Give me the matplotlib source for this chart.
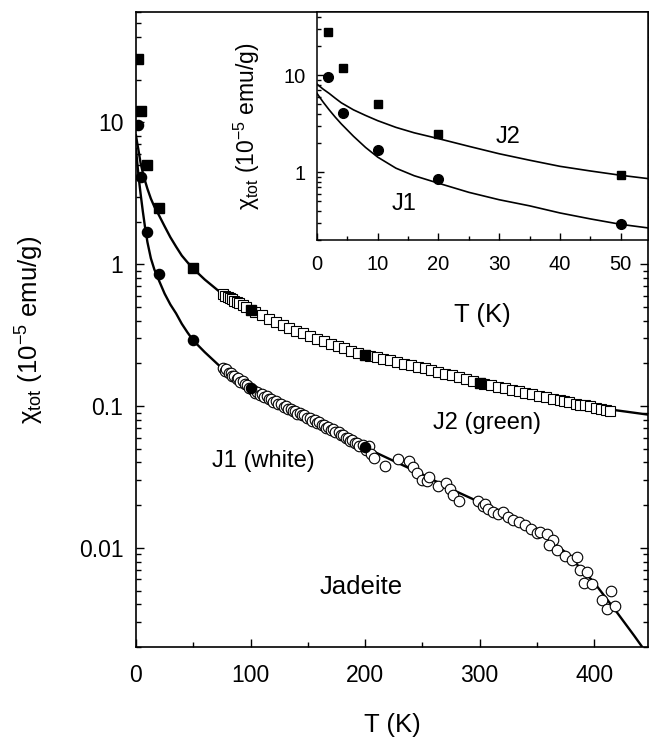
import matplotlib
matplotlib.use("Agg")
import matplotlib.pyplot as plt
from matplotlib.ticker import LogLocator, MultipleLocator, NullFormatter

plt.rcParams['font.family'] = ['Liberation Sans', 'DejaVu Sans']
plt.rcParams['mathtext.fontset'] = 'custom'
plt.rcParams['mathtext.rm'] = 'Liberation Sans'
plt.rcParams['mathtext.it'] = 'Liberation Sans:italic'

# ---------------- data ----------------
# low-temperature solid points (both panels)
T_low = [1.8, 4.2, 10, 20, 50]
J2_low = [28, 12, 5.0, 2.5, 0.94]
J1_low = [9.6, 4.1, 1.7, 0.85, 0.29]

# extra solid points in main panel
T_J2_solid_hi = [100, 200, 300]
J2_solid_hi = [0.478, 0.230, 0.146]
T_J1_solid_hi = [100, 200]
J1_solid_hi = [0.134, 0.0516]

# open squares: J2 (green)
T_J2_open = [76, 78, 80, 82, 84, 86, 88, 90, 93, 96, 104, 110, 116, 122, 128, 134, 140, 146,
             152, 158, 164, 170, 176, 182, 188, 194, 204, 210, 216, 222, 228, 234, 240, 246,
             252, 258, 264, 270, 276, 282, 288, 294, 304, 310, 316, 322, 328, 334, 340, 346,
             352, 358, 364, 370, 374, 378, 384, 388, 392, 396, 402, 406, 410, 414]
J2_open = [0.614, 0.601, 0.589, 0.577, 0.565, 0.553, 0.542, 0.531, 0.515, 0.499, 0.461, 0.436,
           0.413, 0.391, 0.372, 0.356, 0.340, 0.325, 0.312, 0.299, 0.287, 0.275, 0.264, 0.255,
           0.246, 0.238, 0.226, 0.221, 0.215, 0.210, 0.204, 0.199, 0.194, 0.189, 0.184, 0.179,
           0.174, 0.169, 0.165, 0.160, 0.155, 0.150, 0.144, 0.140, 0.137, 0.134, 0.130, 0.127,
           0.124, 0.121, 0.118, 0.115, 0.113, 0.110, 0.108, 0.107, 0.104, 0.102, 0.101, 0.0995,
           0.097, 0.096, 0.094, 0.093]

# open circles: J1 (white)
T_J1_open = [76, 78, 79, 81, 83, 84, 86, 88, 89, 91, 93, 95, 97, 99,
             102, 104, 106, 108, 110, 112, 114, 116, 118, 120, 122, 124,
             127, 129, 131, 133, 135, 137, 139, 141, 143, 145, 147, 149,
             152, 154, 156, 158, 160, 162, 164, 166, 168, 170, 172, 174,
             177, 179, 181, 183, 185, 187, 189, 191, 193, 195, 198, 201, 203,
             205, 208, 217.5, 229, 238.7, 242, 245, 249.5, 253.8, 256, 264, 270.7, 274,
             277, 282, 299, 303, 305, 307.7, 312, 316, 320.8, 325, 329.5, 334.8, 339.7,
             344.7, 350, 352.8, 358.6, 364.5, 361, 367.4, 374.7, 380.5, 384.9, 387.8,
             393.6, 391.3, 398, 406.7, 411, 414.6, 418]
J1_open = [0.186, 0.178, 0.182, 0.171, 0.170, 0.163, 0.164, 0.155, 0.158, 0.148, 0.150, 0.142, 0.141, 0.133,
           0.130, 0.124, 0.126, 0.120, 0.121, 0.115, 0.117, 0.112, 0.113, 0.107, 0.108, 0.103,
           0.104, 0.098, 0.100, 0.095, 0.096, 0.092, 0.093, 0.088, 0.090, 0.086, 0.087, 0.083,
           0.083, 0.079, 0.080, 0.076, 0.077, 0.073, 0.074, 0.070, 0.071, 0.068, 0.069, 0.066,
           0.066, 0.062, 0.063, 0.060, 0.060, 0.057, 0.058, 0.055, 0.055, 0.052, 0.053, 0.049, 0.052,
           0.046, 0.043, 0.038, 0.042, 0.041, 0.037, 0.0337, 0.030, 0.0294, 0.0316, 0.0271, 0.0286, 0.0259,
           0.0237, 0.0215, 0.0215, 0.0196, 0.0205, 0.0187, 0.018, 0.0174, 0.0178, 0.0166, 0.0158, 0.0151, 0.0145,
           0.0136, 0.0128, 0.0130, 0.0126, 0.0113, 0.0105, 0.0097, 0.0088, 0.0082, 0.0086, 0.0070,
           0.0068, 0.0057, 0.0056, 0.0043, 0.0037, 0.0050, 0.0039]

# fit curves
T_fit_J2 = [0, 1, 2, 3, 4, 6, 8, 10, 13, 16, 20, 25, 30, 35, 40, 45, 50, 60, 75, 100,
            125, 150, 175, 200, 250, 300, 350, 400, 447]
J2_fit = [8.1, 7.2, 6.5, 5.8, 5.2, 4.4, 3.85, 3.4, 2.9, 2.55, 2.22, 1.85, 1.55, 1.33, 1.15,
          1.03, 0.93, 0.78, 0.62, 0.478, 0.38, 0.315, 0.265, 0.230, 0.186, 0.146, 0.119,
          0.098, 0.087]
T_fit_J1 = [0, 1, 2, 3, 4, 6, 8, 10, 13, 16, 20, 25, 30, 35, 40, 45, 50, 60, 75, 100,
            125, 150, 175, 200, 225, 250, 275, 300, 325, 350, 375, 400, 420, 435, 442, 446]
J1_fit = [6.5, 5.3, 4.4, 3.7, 3.15, 2.35, 1.8, 1.43, 1.1, 0.92, 0.77, 0.62, 0.52, 0.45, 0.38,
          0.33, 0.29, 0.24, 0.185, 0.132, 0.104, 0.084, 0.066, 0.051, 0.041, 0.033, 0.026,
          0.021, 0.017, 0.0134, 0.0093, 0.0057, 0.0035, 0.0024, 0.0020, 0.0016]

main_xticks = [0, 100, 200, 300, 400]
main_yticks = [0.01, 0.1, 1, 10]
main_yticklabels = ['0.01', '0.1', '1', '10']
inset_xticks = [0, 10, 20, 30, 40, 50]
inset_yticks = [1, 10]
inset_yticklabels = ['1', '10']

ylabel_text = r'χ$_{\rm tot}$ (10$^{-5}$ emu/g)'

# ---------------- figure ----------------
fig = plt.figure(figsize=(6.5, 7.37), dpi=100)
ax = fig.add_axes([0.2092, 0.1221, 0.7877, 0.8616])

ax.plot(T_fit_J2, J2_fit, color='black', lw=1.7, zorder=2)
ax.plot(T_fit_J1, J1_fit, color='black', lw=1.7, zorder=2)
ax.plot(T_J2_open, J2_open, ls='none', marker='s', ms=6.6, mfc='white', mec='black', mew=0.8, zorder=3)
ax.plot(T_J1_open, J1_open, ls='none', marker='o', ms=7.6, mfc='white', mec='black', mew=0.8, zorder=3)
ax.plot(T_low + T_J2_solid_hi, J2_low + J2_solid_hi, ls='none', marker='s', ms=6.8,
        mfc='black', mec='black', zorder=4)
ax.plot(T_low + T_J1_solid_hi, J1_low + J1_solid_hi, ls='none', marker='o', ms=7.3,
        mfc='black', mec='black', zorder=4)

ax.set_yscale('log')
ax.set_xlim(0, 447)
ax.set_ylim(0.002, 60)
ax.set_xticks(main_xticks)
ax.set_xticklabels([str(t) for t in main_xticks])
ax.xaxis.set_minor_locator(MultipleLocator(50))
ax.set_yticks(main_yticks)
ax.set_yticklabels(main_yticklabels)
ax.yaxis.set_minor_locator(LogLocator(base=10, subs=range(2, 10), numticks=20))
ax.yaxis.set_minor_formatter(NullFormatter())
ax.tick_params(which='both', direction='in', top=False, right=True, width=1.0)
ax.tick_params(which='major', length=6, labelsize=16.5)
ax.tick_params(axis='x', which='major', pad=12)
ax.tick_params(axis='y', which='major', pad=9)
ax.tick_params(which='minor', length=3.5)
for s in ax.spines.values():
    s.set_linewidth(1.2)

ax.set_xlabel('T (K)', fontsize=18.5)
ax.xaxis.set_label_coords(0.5, -0.104)
ax.xaxis.label.set_va('top')
ax.set_ylabel(ylabel_text, fontsize=18.5)
ax.yaxis.set_label_coords(-0.176, 0.5)

ax.text(0.6865, 0.3528, 'J2 (green)', transform=ax.transAxes, ha='center', va='center', fontsize=17)
ax.text(0.248, 0.293, 'J1 (white)', transform=ax.transAxes, ha='center', va='center', fontsize=17)
ax.text(0.4404, 0.0945, 'Jadeite', transform=ax.transAxes, ha='center', va='center', fontsize=18.5)

# ---------------- inset ----------------
ins = fig.add_axes([0.4877, 0.6744, 0.5092, 0.3094])
ins.set_facecolor('white')
ins.plot(T_fit_J2, J2_fit, color='black', lw=1.2)
ins.plot(T_fit_J1, J1_fit, color='black', lw=1.2)
ins.plot(T_low, J2_low, ls='none', marker='s', ms=6.0, mfc='black', mec='black')
ins.plot(T_low, J1_low, ls='none', marker='o', ms=7.0, mfc='black', mec='black')
ins.set_yscale('log')
ins.set_xlim(0, 54.5)
ins.set_ylim(0.2, 45)
ins.set_xticks(inset_xticks)
ins.set_xticklabels([str(t) for t in inset_xticks])
ins.xaxis.set_minor_locator(MultipleLocator(5))
ins.set_yticks(inset_yticks)
ins.set_yticklabels(inset_yticklabels)
ins.yaxis.set_minor_locator(LogLocator(base=10, subs=range(2, 10), numticks=20))
ins.yaxis.set_minor_formatter(NullFormatter())
ins.tick_params(which='both', direction='in', top=False, right=False, width=1.0)
ins.tick_params(which='major', length=5, labelsize=14.5)
ins.tick_params(axis='x', which='major', pad=11)
ins.tick_params(axis='y', which='major', pad=8)
ins.tick_params(which='minor', length=3)
for s in ins.spines.values():
    s.set_linewidth(1.1)
ins.set_xlabel('T (K)', fontsize=18.5)
ins.xaxis.set_label_coords(0.5, -0.276)
ins.xaxis.label.set_va('top')
ins.set_ylabel(ylabel_text, fontsize=16.5)
ins.yaxis.set_label_coords(-0.165, 0.5)
ins.text(0.5785, 0.4496, 'J2', transform=ins.transAxes, ha='center', va='center', fontsize=17)
ins.text(0.263, 0.158, 'J1', transform=ins.transAxes, ha='center', va='center', fontsize=17)

fig.savefig('out.png', dpi=100)
